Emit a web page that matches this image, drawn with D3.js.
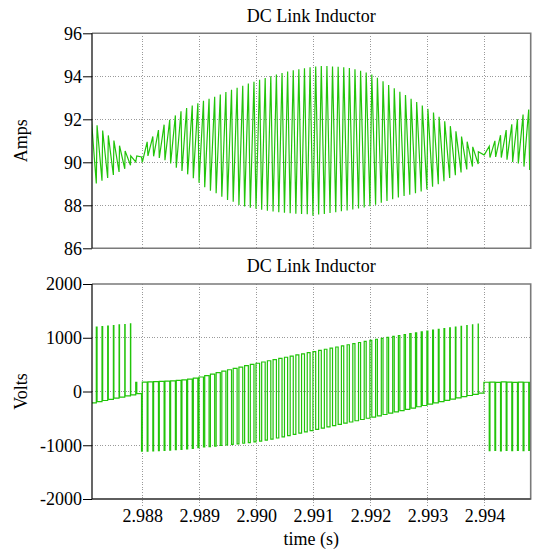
<!DOCTYPE html>
<html>
<head>
<meta charset="utf-8">
<script src="https://cdn.jsdelivr.net/npm/d3@7"></script>
<style>
  body { margin: 0; background: #fff; }
  svg text { font-family: "Liberation Serif", "Times New Roman", serif; fill: #000; }
</style>
</head>
<body>
<svg id="chart" width="533" height="553"></svg>
<script>
// Switching grid: pulse k is centred on firstPulseCenter + k * switchPeriod
const firstPulseCenter = 2.987103; // s
const switchPeriod = 0.0000991;    // s

// Width of each pulse as a fraction of the switching period
const pulseWidth = [
  0.15, 0.135, 0.12, 0.11, 0.095, 0.08, 0.065, 0.05, 0.19,
  0.14, 0.14, 0.14, 0.15, 0.15, 0.16, 0.16, 0.17, 0.18, 0.19,
  0.21, 0.22, 0.24, 0.26, 0.27, 0.29, 0.30, 0.32, 0.33, 0.35,
  0.36, 0.37, 0.39, 0.40, 0.42, 0.43, 0.45, 0.46, 0.48, 0.49,
  0.51, 0.52, 0.54, 0.55, 0.57, 0.58, 0.60, 0.61, 0.63, 0.64,
  0.66, 0.67, 0.69, 0.70, 0.72, 0.73, 0.75, 0.76, 0.78, 0.80,
  0.81, 0.83, 0.85, 0.86, 0.88, 0.89, 0.91, 0.93, 0.94, 0.96,
  0.98,
  0.87, 0.87, 0.86, 0.86, 0.85, 0.85, 0.84, 0.84, 0.83
];

// Inductor voltage during each pulse (V)
const pulseVolts = [
  1185, 1196, 1209, 1215, 1228, 1240, 1246, 1259, 170,
  -1110, -1108, -1105, -1100, -1095, -1090, -1084, -1078, -1070, -1060,
  -1045, -1033, -1024, -1015, -1005, -995, -985, -975, -963, -951,
  -938, -922, -904, -885, -865, -843, -820, -797, -774, -751,
  -728, -705, -682, -659, -636, -613, -590, -567, -544, -521,
  -498, -475, -452, -428, -404, -380, -356, -332, -308, -284,
  -260, -235, -212, -189, -166, -143, -120, -97, -74, -52,
  -30,
  172, 175, 170, 178, 173, 171, 176, 172, 170
];

// Inductor voltage between pulse k and pulse k+1 (V)
const gapVolts = [
  -210, -188, -167, -146, -125, -104, -82, -61, -40,
  173, 178, 183, 189, 193, 198, 207, 218, 232, 250,
  270, 295, 322, 350, 378, 405, 430, 455, 480, 503,
  526, 549, 572, 594, 616, 637, 659, 680, 701, 722,
  743, 765, 786, 807, 828, 849, 870, 891, 912, 932,
  952, 972, 990, 1008, 1025, 1042, 1059, 1076, 1093, 1109,
  1125, 1141, 1156, 1170, 1184, 1198, 1212, 1226, 1240, 1255,
  170,
  -1100, -1098, -1105, -1096, -1102, -1095, -1100, -1097, -1100
];

// Inductor current at the start and at the end of each pulse (A)
const ampAtPulseStart = [
  89.00, 89.02, 89.14, 89.27, 89.41, 89.55, 89.70, 89.86, 90.02,
  90.25, 90.95, 91.20, 91.50, 91.75, 91.98, 92.18, 92.37, 92.52, 92.64,
  92.75, 92.86, 92.95, 93.05, 93.15, 93.27, 93.37, 93.47, 93.56, 93.66,
  93.75, 93.84, 93.92, 94.00, 94.08, 94.15, 94.22, 94.28, 94.33, 94.37,
  94.42, 94.45, 94.48, 94.48, 94.46, 94.44, 94.42, 94.38, 94.33, 94.26,
  94.18, 94.08, 93.93, 93.77, 93.60, 93.44, 93.28, 93.13, 92.96, 92.80,
  92.64, 92.49, 92.32, 92.12, 91.91, 91.68, 91.44, 91.20, 90.96, 90.72,
  90.49,
  90.35, 90.22, 90.25, 90.22, 90.12, 90.02, 89.95, 89.80, 89.64
];
const ampAtPulseEnd = [
  91.95, 91.72, 91.48, 91.25, 91.01, 90.77, 90.53, 90.30, 90.30,
  90.00, 90.30, 90.28, 90.20, 90.10, 89.95, 89.75, 89.60, 89.44, 89.26,
  89.05, 88.84, 88.68, 88.56, 88.40, 88.25, 88.17, 88.01, 87.95, 87.89,
  87.84, 87.79, 87.75, 87.71, 87.68, 87.65, 87.63, 87.61, 87.60, 87.58,
  87.52, 87.57, 87.60, 87.64, 87.68, 87.72, 87.76, 87.80, 87.85, 87.90,
  87.96, 88.03, 88.12, 88.20, 88.28, 88.36, 88.43, 88.49, 88.56, 88.64,
  88.74, 88.86, 88.98, 89.12, 89.27, 89.40, 89.53, 89.67, 89.80, 89.92,
  90.35,
  90.75, 91.00, 91.26, 91.50, 91.77, 92.00, 92.22, 92.45, 92.68
];

// Axes
const timeDomain = [2.98712, 2.99481];
const timeTicks = [2.988, 2.989, 2.990, 2.991, 2.992, 2.993, 2.994];
const ampDomain = [86, 96];
const ampTicks = [86, 88, 90, 92, 94, 96];
const voltDomain = [-2000, 2000];
const voltTicks = [-2000, -1000, 0, 1000, 2000];

// Build the waveforms from the switching edges
const voltPoints = [];
const ampPoints = [];
pulseWidth.forEach((w, k) => {
  const c = firstPulseCenter + k * switchPeriod;
  const half = w * switchPeriod / 2;
  const s = c - half, e = c + half;
  if (k > 0) voltPoints.push([s, gapVolts[k - 1]]);
  voltPoints.push([s, pulseVolts[k]], [e, pulseVolts[k]], [e, gapVolts[k]]);
  ampPoints.push([s, ampAtPulseStart[k]], [e, ampAtPulseEnd[k]]);
});

const svg = d3.select("#chart");
const plotLeft = 92, plotRight = 530.7;
const x = d3.scaleLinear().domain(timeDomain).range([plotLeft, plotRight]);

const panels = [
  { id: "amps", top: 33.3, bottom: 248.3, domain: ampDomain, ticks: ampTicks,
    label: "Amps", title: "DC Link Inductor", points: ampPoints, timeLabels: false },
  { id: "volts", top: 284, bottom: 499, domain: voltDomain, ticks: voltTicks,
    label: "Volts", title: "DC Link Inductor", points: voltPoints, timeLabels: true }
];

const green = "#22c40a";
const gridColor = "#9a9a9a";
const frameColor = "#7a7a7a";

panels.forEach(p => {
  const y = d3.scaleLinear().domain(p.domain).range([p.bottom, p.top]);
  const g = svg.append("g");

  g.append("clipPath").attr("id", "clip-" + p.id)
    .append("rect")
    .attr("x", plotLeft).attr("y", p.top)
    .attr("width", plotRight - plotLeft).attr("height", p.bottom - p.top);

  // dotted grid
  const grid = g.append("g")
    .attr("stroke", gridColor).attr("stroke-width", 1)
    .attr("stroke-dasharray", "1,1.6").attr("shape-rendering", "crispEdges");
  grid.selectAll("line.h").data(p.ticks.slice(1, -1)).join("line")
    .attr("x1", plotLeft).attr("x2", plotRight)
    .attr("y1", d => y(d)).attr("y2", d => y(d));
  grid.selectAll("line.v").data(timeTicks).join("line")
    .attr("x1", d => x(d)).attr("x2", d => x(d))
    .attr("y1", p.top).attr("y2", p.bottom + (p.timeLabels ? 9 : 0));

  // waveform
  g.append("path")
    .datum(p.points)
    .attr("clip-path", "url(#clip-" + p.id + ")")
    .attr("fill", "none")
    .attr("stroke", green)
    .attr("stroke-width", 1.2)
    .attr("stroke-linejoin", "miter")
    .attr("d", d3.line().x(d => x(d[0])).y(d => y(d[1])));

  // frame
  g.append("path")
    .attr("fill", "none").attr("stroke", frameColor).attr("stroke-width", 1.6)
    .attr("d", `M${plotLeft},${p.top}H${plotRight}V${p.bottom}H${plotLeft}`);

  // y axis
  const yAxis = d3.axisLeft(y).tickValues(p.ticks).tickSize(9).tickPadding(1)
    .tickFormat(d => String(d));
  const ya = g.append("g").attr("transform", `translate(${plotLeft},0)`).call(yAxis);
  ya.select(".domain").remove();
  ya.selectAll(".tick line").attr("stroke", "#000");
  ya.selectAll("text").attr("font-size", 18)
    .attr("font-family", "Liberation Serif, Times New Roman, serif");
  g.append("line").attr("stroke", "#000").attr("stroke-width", 1.2)
    .attr("x1", plotLeft).attr("x2", plotLeft).attr("y1", p.top).attr("y2", p.bottom);

  if (p.timeLabels) {
    const xAxis = d3.axisBottom(x).tickValues(timeTicks).tickSize(0).tickPadding(10)
      .tickFormat(d3.format(".3f"));
    const xa = g.append("g").attr("transform", `translate(0,${p.bottom})`).call(xAxis);
    xa.select(".domain").remove();
    xa.selectAll("text").attr("font-size", 18)
      .attr("font-family", "Liberation Serif, Times New Roman, serif");
    g.append("line").attr("stroke", "#222").attr("stroke-width", 1.2)
      .attr("x1", plotLeft).attr("x2", plotRight).attr("y1", p.bottom).attr("y2", p.bottom);
  }

  // titles
  g.append("text")
    .attr("x", (plotLeft + plotRight) / 2).attr("y", p.top - 11.8)
    .attr("text-anchor", "middle").attr("font-size", 18)
    .text(p.title);
  g.append("text")
    .attr("transform", `translate(27,${(p.top + p.bottom) / 2}) rotate(-90)`)
    .attr("text-anchor", "middle").attr("font-size", 18)
    .text(p.label);
});

svg.append("text")
  .attr("x", (plotLeft + plotRight) / 2).attr("y", 545)
  .attr("text-anchor", "middle").attr("font-size", 18)
  .text("time (s)");
</script>
</body>
</html>
